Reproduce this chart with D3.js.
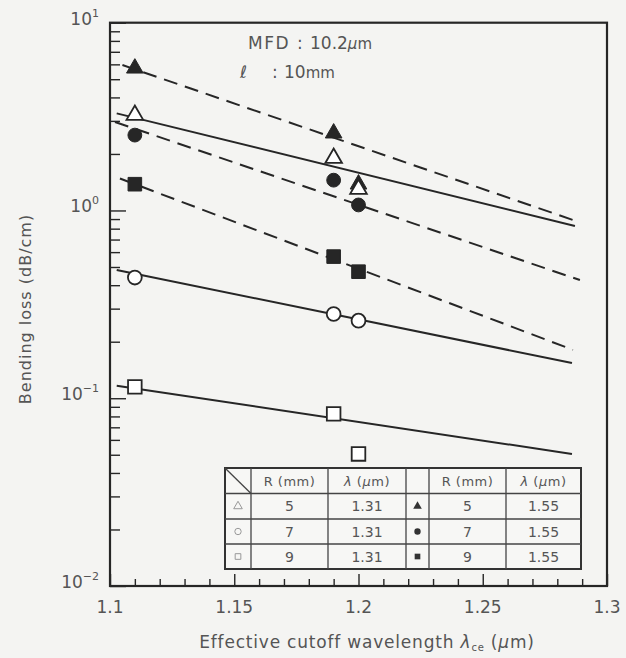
<!DOCTYPE html>
<html>
<head>
<meta charset="utf-8">
<script src="https://cdn.jsdelivr.net/npm/d3@7/dist/d3.min.js"></script>
<style>
  html, body { margin: 0; padding: 0; background: #f4f4f2; }
  svg { display: block; }
  text { font-family: "DejaVu Sans", sans-serif; fill: #555; }
</style>
</head>
<body>
<svg id="chart" width="626" height="658"></svg>
<script>
// Effective cutoff wavelength of the measured fibres (µm)
const wavelengths = [1.11, 1.19, 1.20];

// Measured bending loss (dB/cm), λ = 1.31 µm
const lossR5_131 = [3.22, 1.90, 1.30];
const lossR7_131 = [0.439, 0.281, 0.259];
const lossR9_131 = [0.115, 0.0825, 0.0505];

// Measured bending loss (dB/cm), λ = 1.55 µm
const lossR5_155 = [5.72, 2.58, 1.38];
const lossR7_155 = [2.52, 1.45, 1.07];
const lossR9_155 = [1.38, 0.568, 0.472];

// Fitted trend lines: [[λce start, loss], [λce end, loss]]
const fitR5_131 = [[1.1027, 3.29], [1.2871, 0.827]];
const fitR7_131 = [[1.1027, 0.482], [1.2859, 0.154]];
const fitR9_131 = [[1.1027, 0.1167], [1.2859, 0.0505]];
const fitR5_155 = [[1.105, 5.95], [1.2863, 0.89]];
const fitR7_155 = [[1.102, 2.96], [1.2891, 0.426]];
const fitR9_155 = [[1.104, 1.48], [1.2863, 0.181]];

// Axis ticks
const xTicks = [1.1, 1.15, 1.2, 1.25, 1.3];
const xTickLabels = ["1.1", "1.15", "1.2", "1.25", "1.3"];
const yDecadeExponents = [1, 0, -1, -2];
const yTickLabels = ["1", "0", "\u22121", "\u22122"];

// Legend table
const tableRadii = [5, 7, 9];
const tableLambda131 = "1.31";
const tableLambda155 = "1.55";

// Parameter annotation
const mfdText = "10.2";
const lengthText = "10";

const svg = d3.select("#chart");
const ink = "#262626";

const plotLeft = 110, plotRight = 607, plotTop = 22.7, plotBottom = 586;
const x = d3.scaleLinear().domain([1.1, 1.3]).range([plotLeft, plotRight]);
const y = d3.scaleLog().domain([0.01, 10]).range([plotBottom, plotTop]);

// ---- axes ----
const minorX = d3.range(1.1, 1.3001, 0.01).map(v => +v.toFixed(2))
  .filter(v => !xTicks.some(t => Math.abs(t - v) < 1e-6));
const axisX = svg.append("g").attr("transform", `translate(0,${plotBottom})`);
axisX.call(d3.axisBottom(x).tickValues(minorX).tickSize(-7).tickFormat(""));
axisX.append("g").call(d3.axisBottom(x).tickValues(xTicks).tickSize(-12).tickFormat(""));
axisX.selectAll(".domain").remove();
axisX.selectAll("line").attr("stroke", ink).attr("stroke-width", 1.4);

svg.append("g").selectAll("text").data(xTicks).join("text")
  .attr("x", d => x(d)).attr("y", 613)
  .attr("text-anchor", "middle").attr("font-size", 17)
  .text((d, i) => xTickLabels[i]);

const minorY = [];
yDecadeExponents.slice(0, 3).forEach(e => {
  for (let m = 2; m <= 9; m++) minorY.push(m * Math.pow(10, e - 1));
});
const majorY = yDecadeExponents.map(e => Math.pow(10, e));
const axisY = svg.append("g").attr("transform", `translate(${plotLeft},0)`);
axisY.call(d3.axisLeft(y).tickValues(minorY).tickSize(-10).tickFormat(""));
axisY.append("g").call(d3.axisLeft(y).tickValues(majorY).tickSize(-16).tickFormat(""));
axisY.selectAll(".domain").remove();
axisY.selectAll("line").attr("stroke", ink).attr("stroke-width", 1.4);

const yLab = svg.append("g").selectAll("text").data(majorY).join("text")
  .attr("x", 99).attr("y", d => y(d) + 2)
  .attr("text-anchor", "end").attr("font-size", 17);
yLab.append("tspan").text("10");
yLab.append("tspan").attr("dy", -8).attr("font-size", 11).text((d, i) => yTickLabels[i]);

// frame
svg.append("rect").attr("x", plotLeft).attr("y", plotTop)
  .attr("width", plotRight - plotLeft).attr("height", plotBottom - plotTop)
  .attr("fill", "none").attr("stroke", ink).attr("stroke-width", 2.2);

// axis titles
const xt = svg.append("text").attr("x", 367).attr("y", 648)
  .attr("text-anchor", "middle").attr("font-size", 17).attr("letter-spacing", 0.8);
xt.append("tspan").text("Effective cutoff wavelength ");
xt.append("tspan").attr("font-style", "italic").text("\u03bb");
xt.append("tspan").attr("font-size", 10).attr("dy", 3).text("ce");
xt.append("tspan").attr("dy", -3).text(" (");
xt.append("tspan").attr("font-style", "italic").text("\u03bc");
xt.append("tspan").text("m)");

svg.append("text").attr("transform", "translate(31,309) rotate(-90)")
  .attr("text-anchor", "middle").attr("font-size", 16).attr("letter-spacing", 1)
  .text("Bending loss (dB/cm)");

// annotation
svg.append("text").attr("x", 248).attr("y", 49).attr("font-size", 17).attr("letter-spacing", 1.5).text("MFD");
svg.append("text").attr("x", 297).attr("y", 49).attr("font-size", 17).text(":");
const mfd = svg.append("text").attr("x", 310).attr("y", 49).attr("font-size", 17);
mfd.append("tspan").text(mfdText);
mfd.append("tspan").attr("font-style", "italic").attr("font-size", 15).text("\u03bc");
mfd.append("tspan").attr("font-size", 15).text("m");
svg.append("text").attr("x", 240).attr("y", 78).attr("font-size", 17).attr("font-style", "italic").text("\u2113");
svg.append("text").attr("x", 272).attr("y", 78).attr("font-size", 17).text(":");
const len = svg.append("text").attr("x", 284).attr("y", 78).attr("font-size", 17);
len.append("tspan").text(lengthText);
len.append("tspan").attr("font-size", 15).text("mm");

// ---- fitted lines ----
const fits = [
  { pts: fitR5_155, dashed: true },
  { pts: fitR5_131, dashed: false },
  { pts: fitR7_155, dashed: true },
  { pts: fitR9_155, dashed: true },
  { pts: fitR7_131, dashed: false },
  { pts: fitR9_131, dashed: false }
];
const line = d3.line().x(d => x(d[0])).y(d => y(d[1]));
svg.append("g").selectAll("path").data(fits).join("path")
  .attr("d", d => line(d.pts))
  .attr("fill", "none").attr("stroke", ink).attr("stroke-width", 2)
  .attr("stroke-dasharray", d => d.dashed ? "14 8" : null);

// ---- measured points ----
const series = [
  { values: lossR5_155, type: d3.symbolTriangle, size: 120, filled: true },
  { values: lossR7_155, type: d3.symbolCircle, size: 150, filled: true },
  { values: lossR9_155, type: d3.symbolSquare, size: 185, filled: true },
  { values: lossR5_131, type: d3.symbolTriangle, size: 120, filled: false },
  { values: lossR7_131, type: d3.symbolCircle, size: 150, filled: false },
  { values: lossR9_131, type: d3.symbolSquare, size: 185, filled: false }
];
series.forEach(s => {
  svg.append("g").selectAll("path").data(s.values).join("path")
    .attr("transform", (v, i) => `translate(${x(wavelengths[i])},${y(v)})`)
    .attr("d", d3.symbol().type(s.type).size(s.size)())
    .attr("fill", s.filled ? ink : "#ffffff")
    .attr("stroke", ink).attr("stroke-width", s.filled ? 1 : 1.8);
});

// ---- legend table ----
const colX = [225, 251, 328, 406, 429, 506, 581];
const rowY = [468, 493.5, 519, 544, 569];
const tbl = svg.append("g");
tbl.append("rect").attr("x", colX[0]).attr("y", rowY[0])
  .attr("width", colX[6] - colX[0]).attr("height", rowY[4] - rowY[0])
  .attr("fill", "#f7f7f5").attr("stroke", "#333").attr("stroke-width", 2);
tbl.selectAll(".col").data(colX.slice(1, 6)).join("line")
  .attr("x1", d => d).attr("x2", d => d).attr("y1", rowY[0]).attr("y2", rowY[4])
  .attr("stroke", "#444").attr("stroke-width", 1.3);
tbl.selectAll(".row").data(rowY.slice(1, 4)).join("line")
  .attr("x1", colX[0]).attr("x2", colX[6]).attr("y1", d => d).attr("y2", d => d)
  .attr("stroke", "#444").attr("stroke-width", 1.3);
tbl.append("line").attr("x1", colX[0]).attr("y1", rowY[0]).attr("x2", colX[1]).attr("y2", rowY[1])
  .attr("stroke", "#444").attr("stroke-width", 1.3);

const cx = i => (colX[i] + colX[i + 1]) / 2;
const cy = r => (rowY[r] + rowY[r + 1]) / 2 + 5;
[1, 4].forEach(c => {
  tbl.append("text").attr("x", cx(c)).attr("y", cy(0)).attr("text-anchor", "middle")
    .attr("font-size", 13).attr("letter-spacing", 0.5).text("R (mm)");
  const t = tbl.append("text").attr("x", cx(c + 1)).attr("y", cy(0)).attr("text-anchor", "middle")
    .attr("font-size", 13).attr("letter-spacing", 0.5);
  t.append("tspan").attr("font-style", "italic").text("\u03bb");
  t.append("tspan").text(" (");
  t.append("tspan").attr("font-style", "italic").text("\u03bc");
  t.append("tspan").text("m)");
});
const legendTypes = [d3.symbolTriangle, d3.symbolCircle, d3.symbolSquare];
tableRadii.forEach((r, i) => {
  const row = i + 1;
  tbl.append("path").attr("transform", `translate(${cx(0)},${cy(row) - 5})`)
    .attr("d", d3.symbol().type(legendTypes[i]).size(32)())
    .attr("fill", "none").attr("stroke", "#999").attr("stroke-width", 1);
  tbl.append("path").attr("transform", `translate(${cx(3)},${cy(row) - 5})`)
    .attr("d", d3.symbol().type(legendTypes[i]).size(32)())
    .attr("fill", "#333").attr("stroke", "none");
  tbl.append("text").attr("x", cx(1)).attr("y", cy(row)).attr("text-anchor", "middle").attr("font-size", 14).text(r);
  tbl.append("text").attr("x", cx(2)).attr("y", cy(row)).attr("text-anchor", "middle").attr("font-size", 14).text(tableLambda131);
  tbl.append("text").attr("x", cx(4)).attr("y", cy(row)).attr("text-anchor", "middle").attr("font-size", 14).text(r);
  tbl.append("text").attr("x", cx(5)).attr("y", cy(row)).attr("text-anchor", "middle").attr("font-size", 14).text(tableLambda155);
});
</script>
</body>
</html>
